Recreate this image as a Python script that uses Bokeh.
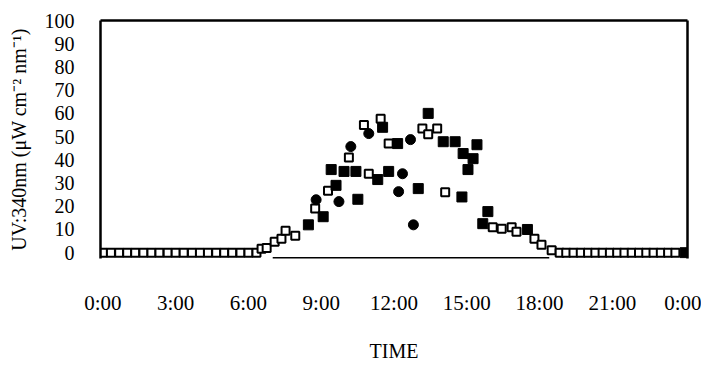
from bokeh.plotting import figure
from bokeh.models import LinearAxis, FixedTicker, Range1d
from bokeh.embed import file_html
from bokeh.resources import INLINE

# ---- data (hours of day, UV 340nm in uW cm-2 nm-1) ----
open_t = [0.0, 0.33, 0.67, 1.0, 1.33, 1.67, 2.0, 2.33, 2.67, 3.0, 3.33, 3.67, 4.0, 4.33,
          4.67, 5.0, 5.33, 5.67, 6.0, 6.33,
          6.54, 6.75, 7.08, 7.36, 7.53, 7.93, 8.75, 9.28, 10.14, 10.76, 10.96, 11.45, 11.78,
          13.17, 13.41, 13.78, 14.11, 16.07, 16.44, 16.85, 17.05, 17.79, 18.08, 18.5,
          18.83, 19.1, 19.4, 19.7, 20.0, 20.3, 20.6, 20.9, 21.2, 21.5, 21.8, 22.1, 22.4,
          22.7, 23.0, 23.3, 23.6]
open_v = [0, 0, 0, 0, 0, 0, 0, 0, 0, 0, 0, 0, 0, 0,
          0, 0, 0, 0, 0, 0,
          1.7, 2, 4.7, 6, 9.5, 7.3, 19, 26.7, 41, 55, 34, 57.7, 47,
          53.5, 51, 53.5, 26, 11, 10.3, 11, 9, 6, 3.4, 1,
          0, 0, 0, 0, 0, 0, 0, 0, 0, 0, 0, 0, 0,
          0, 0, 0, 0]

sq_t = [8.47, 9.08, 9.41, 9.61, 9.94, 10.43, 10.51, 11.33, 11.53, 11.78, 12.15, 13.0,
        13.41, 14.03, 14.52, 14.8, 14.85, 15.05, 15.26, 15.42, 15.66, 15.87, 17.5, 24.0]
sq_v = [12, 15.5, 35.8, 29, 35, 35, 23, 31.5, 54, 35, 47, 27.6,
        60, 47.8, 47.8, 24, 42.7, 35.8, 40.5, 46.5, 12.5, 17.7, 10, 0]

circ_t = [8.79, 9.73, 10.22, 10.96, 12.19, 12.35, 12.68, 12.8]
circ_v = [22.8, 22, 45.7, 51.3, 26.3, 34, 48.7, 12]

baseline_t = [7.0, 18.4]

x_ticks = [0, 3, 6, 9, 12, 15, 18, 21, 24]
x_labels = ["0:00", "3:00", "6:00", "9:00", "12:00", "15:00", "18:00", "21:00", "0:00"]
y_ticks = [0, 10, 20, 30, 40, 50, 60, 70, 80, 90, 100]

Y_MIN, Y_MAX = -2.5, 100
FONT = "Liberation Serif"

p = figure(output_backend="svg", toolbar_location=None,
           frame_width=587, frame_height=238,
           x_range=Range1d(-0.1, 24.1), y_range=Range1d(Y_MIN, Y_MAX),
           min_border_left=100, min_border_right=14, min_border_top=20, min_border_bottom=91,
           x_axis_location=None, y_axis_location=None)
p.outline_line_color = None
p.xgrid.visible = False
p.ygrid.visible = False
p.background_fill_color = "white"
p.border_fill_color = "white"

# left axis (frame line + tick labels)
left = LinearAxis(ticker=FixedTicker(ticks=y_ticks))
left.axis_label = "UV:340nm (\u03bcW cm\u207b\u00b2 nm\u207b\u00b9)"
left.axis_label_text_font = FONT
left.axis_label_text_font_size = "20px"
left.axis_label_text_font_style = "normal"
left.axis_label_text_color = "black"
left.axis_label_standoff = 12
left.major_label_text_font = FONT
left.major_label_text_font_size = "20px"
left.major_label_text_color = "black"
left.major_label_standoff = 20
left.major_tick_line_color = None
left.minor_tick_line_color = None
left.axis_line_width = 2.5
left.axis_line_color = "black"
p.add_layout(left, "left")

# bottom axis (labels only)
bottom = LinearAxis(ticker=FixedTicker(ticks=x_ticks),
                    major_label_overrides={t: s for t, s in zip(x_ticks, x_labels)})
bottom.axis_label = "TIME"
bottom.axis_label_text_font = FONT
bottom.axis_label_text_font_size = "20px"
bottom.axis_label_text_font_style = "normal"
bottom.axis_label_text_color = "black"
bottom.axis_label_standoff = 22
bottom.major_label_text_font = FONT
bottom.major_label_text_font_size = "21px"
bottom.major_label_text_color = "black"
bottom.major_label_standoff = 26
bottom.major_tick_line_color = None
bottom.minor_tick_line_color = None
bottom.axis_line_color = None
p.add_layout(bottom, "below")

# top and right frame lines
for loc in ("above", "right"):
    ax = LinearAxis(ticker=FixedTicker(ticks=[]))
    ax.major_label_text_font_size = "0px"
    ax.major_label_standoff = 0
    ax.major_tick_line_color = None
    ax.minor_tick_line_color = None
    ax.axis_line_width = 2.5
    ax.axis_line_color = "black"
    p.add_layout(ax, loc)

# partial bottom line
p.segment(x0=[baseline_t[0]], y0=[Y_MIN], x1=[baseline_t[1]], y1=[Y_MIN],
          line_color="black", line_width=3)

p.scatter(open_t, open_v, marker="square", size=8, fill_color="white",
          line_color="black", line_width=2)
p.scatter(sq_t, sq_v, marker="square", size=10, fill_color="black", line_color="black")
p.scatter(circ_t, circ_v, marker="circle", size=10, fill_color="black", line_color="black")

open("out.html", "w").write(file_html(p, INLINE))
